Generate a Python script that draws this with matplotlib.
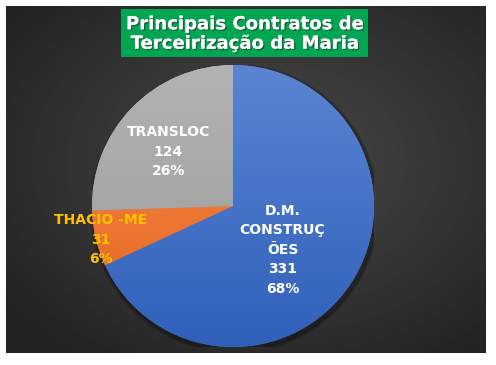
import numpy as np
import matplotlib.pyplot as plt
import matplotlib.patheffects as pe
from matplotlib.patches import Rectangle

# ==========================
# DATA
# ==========================
labels = ["D.M.\nCONSTRUÇ\nÕES", "THACIO -ME", "TRANSLOC"]
values = [331, 31, 124]
title = "Principais Contratos de\nTerceirização da Maria"

# ==========================
# STYLE
# ==========================
W, H = 496, 365
top_colors = ["#5b85d2", "#f58a4c", "#b3b3b3"]
bot_colors = ["#2f60ba", "#e4651c", "#9a9a9a"]
label_colors = ["white", "#ffc000", "white"]
# (radius fraction, angle offset in deg) for each label
label_pos = [(0.47, -9), (0.97, 1), (0.60, 4)]
FONT = ["DejaVu Sans"]

fig = plt.figure(figsize=(W / 100, H / 100), dpi=100)
fig.patch.set_facecolor("white")

# background panel with radial gradient
bg = fig.add_axes([6 / W, 1 - 353 / H, 480 / W, 347 / H])
yy, xx = np.mgrid[0:1:200j, 0:1:300j]
d = np.sqrt(((xx - 0.55) / 0.9) ** 2 + ((yy - 0.55) / 0.9) ** 2)
grad = 0.29 - 0.15 * np.clip(d / 0.75, 0, 1)
bg.imshow(grad, cmap="gray", vmin=0, vmax=1, extent=[0, 1, 0, 1],
          aspect="auto", origin="lower")
bg.set_axis_off()

# pie axes: center (233, 206) px, radius 141 px
cx, cy, r = 233, 206, 141
ax = fig.add_axes([(cx - r) / W, 1 - (cy + r) / H, 2 * r / W, 2 * r / H])
ax.set_axis_off()

# soft shadow (bottom-right)
for k, a in enumerate([0.08, 0.10, 0.14]):
    sh = plt.Circle((0.012, -0.018), 1 + 0.008 * (3 - k), color="black",
                    alpha=a, zorder=0)
    ax.add_patch(sh)

wedges, _ = ax.pie(values, colors=top_colors, startangle=90,
                   counterclock=False, radius=1,
                   wedgeprops=dict(linewidth=0))

grad_y = np.linspace(0, 1, 256).reshape(-1, 1)
for w, c1, c2 in zip(wedges, top_colors, bot_colors):
    c1 = np.array(plt.matplotlib.colors.to_rgb(c1))
    c2 = np.array(plt.matplotlib.colors.to_rgb(c2))
    img = c2 + (c1 - c2) * grad_y[..., None]
    img = np.repeat(img, 2, axis=1)
    im = ax.imshow(img, extent=[-1, 1, -1, 1], origin="lower",
                   aspect="auto", zorder=2)
    im.set_clip_path(w)
ax.set_aspect("auto")
ax.set_xlim(-1, 1)
ax.set_ylim(-1, 1)

total = sum(values)
for w, lab, v, col, (rf, dth) in zip(wedges, labels, values,
                                     label_colors, label_pos):
    th = np.deg2rad((w.theta1 + w.theta2) / 2 + dth)
    pct = round(100 * v / total)
    ax.text(rf * np.cos(th), rf * np.sin(th), f"{lab}\n{v}\n{pct}%",
            ha="center", va="center", color=col, fontsize=10,
            fontweight="bold", family=FONT, linespacing=1.5, zorder=5)

# title box
fig.patches.append(Rectangle((121 / W, 1 - 57 / H), 247 / W, 48 / H,
                             transform=fig.transFigure,
                             facecolor="#00a651", edgecolor="none",
                             zorder=3))
fig.text(244 / W, 1 - 34 / H, title, ha="center", va="center",
         color="white", fontsize=13, fontweight="bold", family=FONT,
         linespacing=1.1, zorder=4,
         path_effects=[pe.withSimplePatchShadow(offset=(1, -1),
                                                shadow_rgbFace="#333333",
                                                alpha=0.6),
                       pe.Normal()])

fig.savefig("out.png", dpi=100)
